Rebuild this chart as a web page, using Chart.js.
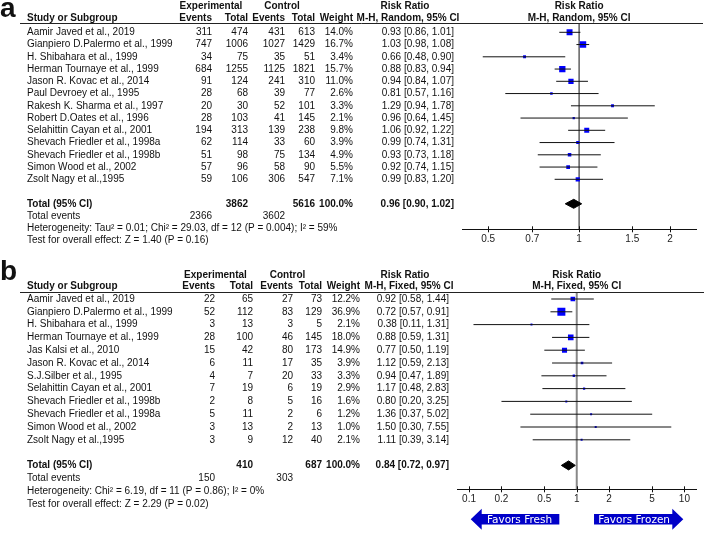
<!DOCTYPE html>
<html>
<head>
<meta charset="utf-8">
<script src="https://cdn.jsdelivr.net/npm/chart.js@4.4.1/dist/chart.umd.min.js"></script>
<style>
  html, body { margin: 0; padding: 0; background: #fff; }
  #wrap { position: relative; width: 708px; height: 533px; }
  canvas { position: absolute; left: 0; }
</style>
</head>
<body>
<div id="wrap">
  <canvas id="chartA" width="708" height="258" style="top:0"></canvas>
  <canvas id="chartB" width="708" height="275" style="top:258px"></canvas>
</div>
<script>
// ---- panel a (M-H, Random) ----
const studiesA = ['Aamir Javed et al., 2019', 'Gianpiero D.Palermo et al., 1999', 'H. Shibahara et al., 1999',
  'Herman Tournaye et al., 1999', 'Jason R. Kovac et al., 2014', 'Paul Devroey et al., 1995',
  'Rakesh K. Sharma et al., 1997', 'Robert D.Oates et al., 1996', 'Selahittin Cayan et al., 2001',
  'Shevach Friedler et al., 1998a', 'Shevach Friedler et al., 1998b', 'Simon Wood et al., 2002',
  'Zsolt Nagy et al.,1995'];
const expEventsA = [311, 747, 34, 684, 91, 28, 20, 28, 194, 62, 51, 57, 59];
const expTotalA = [474, 1006, 75, 1255, 124, 68, 30, 103, 313, 114, 98, 96, 106];
const ctlEventsA = [431, 1027, 35, 1125, 241, 39, 52, 41, 139, 33, 75, 58, 306];
const ctlTotalA = [613, 1429, 51, 1821, 310, 77, 101, 145, 238, 60, 134, 90, 547];
const weightA = [14.0, 16.7, 3.4, 15.7, 11.0, 2.6, 3.3, 2.1, 9.8, 3.9, 4.9, 5.5, 7.1];
const rrA = [0.93, 1.03, 0.66, 0.88, 0.94, 0.81, 1.29, 0.96, 1.06, 0.99, 0.93, 0.92, 0.99];
const loA = [0.86, 0.98, 0.48, 0.83, 0.84, 0.57, 0.94, 0.64, 0.92, 0.74, 0.73, 0.74, 0.83];
const hiA = [1.01, 1.08, 0.90, 0.94, 1.07, 1.16, 1.78, 1.45, 1.22, 1.31, 1.18, 1.15, 1.20];
const totalsA = [3862, 5616];
const totalEventsA = [2366, 3602];
const pooledA = [0.96, 0.90, 1.02];
const ticksA = [0.5, 0.7, 1, 1.5, 2];
const hetA = 'Heterogeneity: Tau\u00b2 = 0.01; Chi\u00b2 = 29.03, df = 12 (P = 0.004); I\u00b2 = 59%';
const testA = 'Test for overall effect: Z = 1.40 (P = 0.16)';

// ---- panel b (M-H, Fixed) ----
const studiesB = ['Aamir Javed et al., 2019', 'Gianpiero D.Palermo et al., 1999', 'H. Shibahara et al., 1999',
  'Herman Tournaye et al., 1999', 'Jas Kalsi et al., 2010', 'Jason R. Kovac et al., 2014',
  'S.J.Silber et al., 1995', 'Selahittin Cayan et al., 2001', 'Shevach Friedler et al., 1998b',
  'Shevach Friedler et al., 1998a', 'Simon Wood et al., 2002', 'Zsolt Nagy et al.,1995'];
const expEventsB = [22, 52, 3, 28, 15, 6, 4, 7, 2, 5, 3, 3];
const expTotalB = [65, 112, 13, 100, 42, 11, 7, 19, 8, 11, 13, 9];
const ctlEventsB = [27, 83, 3, 46, 80, 17, 20, 6, 5, 2, 2, 12];
const ctlTotalB = [73, 129, 5, 145, 173, 35, 33, 19, 16, 6, 13, 40];
const weightB = [12.2, 36.9, 2.1, 18.0, 14.9, 3.9, 3.3, 2.9, 1.6, 1.2, 1.0, 2.1];
const rrB = [0.92, 0.72, 0.38, 0.88, 0.77, 1.12, 0.94, 1.17, 0.80, 1.36, 1.50, 1.11];
const loB = [0.58, 0.57, 0.11, 0.59, 0.50, 0.59, 0.47, 0.48, 0.20, 0.37, 0.30, 0.39];
const hiB = [1.44, 0.91, 1.31, 1.31, 1.19, 2.13, 1.89, 2.83, 3.25, 5.02, 7.55, 3.14];
const totalsB = [410, 687];
const totalEventsB = [150, 303];
const pooledB = [0.84, 0.72, 0.97];
const ticksB = [0.1, 0.2, 0.5, 1, 2, 5, 10];
const hetB = 'Heterogeneity: Chi\u00b2 = 6.19, df = 11 (P = 0.86); I\u00b2 = 0%';
const testB = 'Test for overall effect: Z = 2.29 (P = 0.02)';

const FONT = '"Liberation Sans", Arial, sans-serif';
const f2 = v => v.toFixed(2);
const ciText = (r, l, h) => f2(r) + ' [' + f2(l) + ', ' + f2(h) + ']';

function forest(id, d, lay) {
  const n = d.names.length;
  const totRow = n + 1;
  const yMin = (lay.top - lay.rowTop) / lay.step;
  const yMax = (lay.axisY - lay.rowTop) / lay.step;

  const ciData = [];
  d.lo.forEach((lo, i) => {
    ciData.push({x: lo, y: i}, {x: d.hi[i], y: i}, {x: d.hi[i], y: null});
  });
  const maxW = Math.max(...d.weight);
  const radii = d.weight.map(w => Math.max(2, lay.box * Math.sqrt(w / maxW)) / Math.SQRT2);
  const dh = lay.diamond / lay.step;
  const p = d.pooled;
  const diamond = [
    {x: p[1], y: totRow}, {x: p[0], y: totRow - dh}, {x: p[2], y: totRow},
    {x: p[0], y: totRow + dh}, {x: p[1], y: totRow}
  ];

  const decor = {
    id: 'decor',
    beforeDatasetsDraw(chart) {
      const {ctx, chartArea: a} = chart;
      const px = chart.scales.x.getPixelForValue(1);
      ctx.save();
      ctx.strokeStyle = lay.refColor;
      ctx.lineWidth = lay.refWidth;
      ctx.beginPath();
      ctx.moveTo(px, a.top);
      ctx.lineTo(px, a.bottom);
      ctx.stroke();
      ctx.restore();
    },
    afterDraw(chart) {
      const {ctx, chartArea: a} = chart;
      const xs = chart.scales.x, ys = chart.scales.y;
      const c = lay.cols;
      const txt = (s, x, y, align, bold) => {
        ctx.font = (bold ? 'bold ' : '') + '10px ' + FONT;
        ctx.textAlign = align;
        ctx.fillText(s, x, y);
      };
      ctx.save();
      ctx.fillStyle = '#111';
      ctx.textBaseline = 'middle';

      // panel letter
      ctx.font = 'bold 28px ' + FONT;
      ctx.textAlign = 'left';
      ctx.textBaseline = 'alphabetic';
      ctx.fillText(lay.letter, 0, lay.letterY);
      ctx.textBaseline = 'middle';

      // headers
      const one = xs.getPixelForValue(1);
      txt('Experimental', lay.expC, lay.h1y, 'center', true);
      txt('Control', lay.ctlC, lay.h1y, 'center', true);
      txt('Risk Ratio', lay.rrC, lay.h1y, 'center', true);
      txt('Risk Ratio', one, lay.h1y, 'center', true);
      txt('Study or Subgroup', 27, lay.h2y, 'left', true);
      txt('Events', c[0], lay.h2y, 'right', true);
      txt('Total', c[1], lay.h2y, 'right', true);
      txt('Events', c[2], lay.h2y, 'right', true);
      txt('Total', c[3], lay.h2y, 'right', true);
      txt('Weight', c[4], lay.h2y, 'right', true);
      txt(lay.method, lay.mhC, lay.h2y, 'center', true);
      txt(lay.method, one, lay.h2y, 'center', true);

      ctx.strokeStyle = '#222';
      ctx.lineWidth = 1;
      ctx.beginPath();
      ctx.moveTo(20, lay.top + 0.5);
      ctx.lineTo(lay.lineEnd, lay.top + 0.5);
      ctx.stroke();

      // study rows
      d.names.forEach((name, i) => {
        const y = ys.getPixelForValue(i);
        txt(name, 27, y, 'left', false);
        txt(String(d.expE[i]), c[0], y, 'right', false);
        txt(String(d.expT[i]), c[1], y, 'right', false);
        txt(String(d.ctlE[i]), c[2], y, 'right', false);
        txt(String(d.ctlT[i]), c[3], y, 'right', false);
        txt(d.weight[i].toFixed(1) + '%', c[4], y, 'right', false);
        txt(ciText(d.rr[i], d.lo[i], d.hi[i]), c[5], y, 'right', false);
      });

      // totals
      let y = ys.getPixelForValue(totRow);
      txt('Total (95% CI)', 27, y, 'left', true);
      txt(String(d.totals[0]), c[1], y, 'right', true);
      txt(String(d.totals[1]), c[3], y, 'right', true);
      txt('100.0%', c[4], y, 'right', true);
      txt(ciText(p[0], p[1], p[2]), c[5], y, 'right', true);
      y = ys.getPixelForValue(totRow + 1);
      txt('Total events', 27, y, 'left', false);
      txt(String(d.totEvents[0]), c[0], y, 'right', false);
      txt(String(d.totEvents[1]), c[2], y, 'right', false);
      txt(d.het, 27, ys.getPixelForValue(totRow + 2), 'left', false);
      txt(d.test, 27, ys.getPixelForValue(totRow + 3), 'left', false);

      // tick marks crossing the axis
      ctx.strokeStyle = '#111';
      d.ticks.forEach(v => {
        const px = Math.round(xs.getPixelForValue(v)) + 0.5;
        ctx.beginPath();
        ctx.moveTo(px, a.bottom - 3);
        ctx.lineTo(px, a.bottom + 3);
        ctx.stroke();
      });

      // favours arrows
      if (lay.arrows) {
        const cy = a.bottom + 30;
        const arrow = (tail, tip, label) => {
          const dir = tip > tail ? 1 : -1;
          const base = tip - dir * 11;
          ctx.fillStyle = '#0000c8';
          ctx.beginPath();
          ctx.moveTo(tail, cy - 5.2);
          ctx.lineTo(base, cy - 5.2);
          ctx.lineTo(base, cy - 10.5);
          ctx.lineTo(tip, cy);
          ctx.lineTo(base, cy + 10.5);
          ctx.lineTo(base, cy + 5.2);
          ctx.lineTo(tail, cy + 5.2);
          ctx.closePath();
          ctx.fill();
          ctx.fillStyle = '#fff';
          ctx.font = '10.5px "DejaVu Sans", sans-serif';
          ctx.textAlign = 'center';
          ctx.fillText(label, (tail + base) / 2 + dir * 1, cy + 0.5);
        };
        arrow(one - 17.4, a.left + 13.4, 'Favors Fresh');
        arrow(one + 17.3, a.right - 13.4, 'Favors Frozen');
      }
      ctx.restore();
    }
  };

  return new Chart(document.getElementById(id), {
    data: {
      datasets: [
        {
          type: 'line', data: ciData, borderColor: '#111', borderWidth: 1,
          pointRadius: 0, fill: false, tension: 0, spanGaps: false
        },
        {
          type: 'scatter', data: d.rr.map((r, i) => ({x: r, y: i})),
          pointStyle: 'rect', pointRadius: radii, backgroundColor: '#0000ff', borderWidth: 0
        },
        {
          type: 'line', data: diamond, borderColor: '#000', backgroundColor: '#000',
          borderWidth: 1, pointRadius: 0, fill: 'shape', tension: 0
        }
      ]
    },
    options: {
      responsive: false,
      animation: false,
      events: [],
      layout: {padding: {left: lay.left, right: 708 - lay.right, top: lay.top, bottom: lay.padBottom}},
      plugins: {legend: {display: false}, tooltip: {enabled: false}},
      scales: {
        x: {
          type: 'logarithmic', min: lay.xMin, max: lay.xMax, bounds: 'data',
          afterBuildTicks: s => { s.ticks = d.ticks.map(v => ({value: v})); },
          afterFit: s => { s.height = 20; },
          grid: {display: false, drawTicks: false},
          border: {display: true, color: '#111', width: 1},
          ticks: {
            autoSkip: false, maxRotation: 0, padding: 4, color: '#222',
            font: {family: FONT, size: 10},
            callback: v => String(v)
          }
        },
        y: {type: 'linear', reverse: true, min: yMin, max: yMax, display: false}
      }
    },
    plugins: [decor]
  });
}

forest('chartA', {
  names: studiesA, expE: expEventsA, expT: expTotalA, ctlE: ctlEventsA, ctlT: ctlTotalA,
  weight: weightA, rr: rrA, lo: loA, hi: hiA, totals: totalsA, totEvents: totalEventsA,
  pooled: pooledA, ticks: ticksA, het: hetA, test: testA
}, {
  letter: 'a', letterY: 17, method: 'M-H, Random, 95% CI',
  h1y: 6.5, h2y: 18, top: 23, rowTop: 32.3, step: 12.25, axisY: 229.3, padBottom: 8.7,
  left: 462.7, right: 696.7, xMin: 0.412, xMax: 2.45, lineEnd: 703,
  cols: [212, 248, 285, 315, 353, 454], expC: 211, ctlC: 282, rrC: 405, mhC: 408,
  box: 6.5, diamond: 4.5, refColor: '#111', refWidth: 1, arrows: false
});

forest('chartB', {
  names: studiesB, expE: expEventsB, expT: expTotalB, ctlE: ctlEventsB, ctlT: ctlTotalB,
  weight: weightB, rr: rrB, lo: loB, hi: hiB, totals: totalsB, totEvents: totalEventsB,
  pooled: pooledB, ticks: ticksB, het: hetB, test: testB
}, {
  letter: 'b', letterY: 22, method: 'M-H, Fixed, 95% CI',
  h1y: 17, h2y: 28.7, top: 34, rowTop: 41, step: 12.8, axisY: 231.3, padBottom: 23.7,
  left: 457.3, right: 696.7, xMin: 0.0778, xMax: 13.0, lineEnd: 704,
  cols: [215, 253, 293, 322, 360, 449], expC: 215.5, ctlC: 287.5, rrC: 405, mhC: 409,
  box: 8, diamond: 4.5, refColor: '#888', refWidth: 2, arrows: true
});
</script>
</body>
</html>
